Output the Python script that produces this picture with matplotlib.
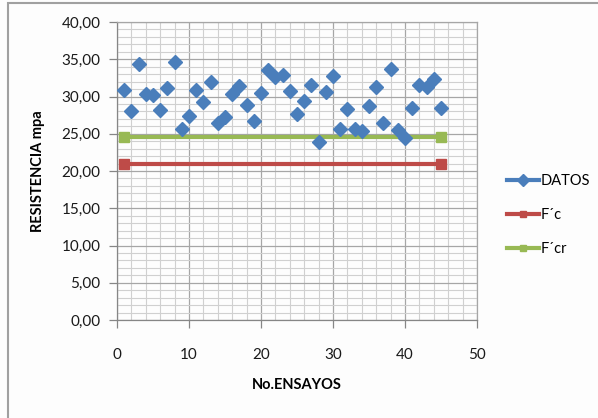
import matplotlib
matplotlib.use("Agg")
import matplotlib.pyplot as plt
from matplotlib.lines import Line2D
from matplotlib.patches import Rectangle
from matplotlib.ticker import MultipleLocator, FuncFormatter

ensayos = list(range(1, 46))
datos = [30.9, 28.0, 34.4, 30.4, 30.2, 28.2, 31.2, 34.6, 25.6, 27.4,
         30.9, 29.3, 31.9, 26.5, 27.3, 30.3, 31.4, 28.9, 26.7, 30.5,
         33.6, 32.6, 32.9, 30.7, 27.7, 29.4, 31.5, 23.9, 30.6, 32.7,
         25.7, 28.3, 25.7, 25.4, 28.7, 31.3, 26.5, 33.7, 25.5, 24.4,
         28.5, 31.5, 31.3, 32.3, 28.5]
linea_x = [1, 45]
fc = [20.9, 20.9]
fcr = [24.6, 24.6]

FONT = "Lato"
plt.rcParams['font.family'] = [FONT, 'DejaVu Sans']

fig = plt.figure(figsize=(5.98, 4.18), dpi=100)
fig.patch.set_facecolor('#fdfdfd')
ax = fig.add_axes([117/598, 1-320/418, 360/598, 298/418])
ax.set_facecolor('#fdfdfd')

# outer chart border (top and left visible)
fig.add_artist(Rectangle((8/598, -0.1), 1.2, 1 - 3/418 + 0.1, transform=fig.transFigure,
                         fill=False, edgecolor='#a0a0a0', linewidth=1.5))

blue = '#4a7ebb'
red = '#be4b48'
green = '#98b954'

ax.plot(ensayos, datos, linestyle='none', marker='D', markersize=7.5,
        color=blue, zorder=4)
ax.plot(linea_x, fc, color=red, linewidth=3, marker='s', markersize=6.5, zorder=3)
ax.plot(linea_x, fcr, color=green, linewidth=3, marker='s', markersize=6.5, zorder=3)

ax.set_xlim(0, 50)
ax.set_ylim(0, 40)
ax.xaxis.set_major_locator(MultipleLocator(10))
ax.xaxis.set_minor_locator(MultipleLocator(2))
ax.yaxis.set_major_locator(MultipleLocator(5))
ax.yaxis.set_minor_locator(MultipleLocator(1))
ax.yaxis.set_major_formatter(FuncFormatter(lambda v, p: f"{v:.2f}".replace('.', ',')))
ax.grid(which='major', color='#a6a6a6', linewidth=0.9)
ax.grid(which='minor', color='#d0d0d0', linewidth=0.8)
ax.set_axisbelow(True)
for s in ax.spines.values():
    s.set_color('#a6a6a6')
    s.set_linewidth(0.9)
ax.spines['left'].set_color('#868686')
ax.spines['bottom'].set_color('#868686')
ax.tick_params(which='major', length=6, width=0.9, color='#868686',
               labelsize=11, labelcolor='#1a1a1a', pad=6)
ax.tick_params(which='minor', length=0)
ax.tick_params(axis='x', pad=14)

ax.set_xlabel('No.ENSAYOS', fontsize=10.5, fontweight='bold', labelpad=12)
ax.set_ylabel('RESISTENCIA mpa', fontsize=10.5, fontweight='bold', labelpad=12)

handles = [Line2D([], [], color=blue, linewidth=3, marker='D', markersize=6),
           Line2D([], [], color=red, linewidth=3, marker='s', markersize=5),
           Line2D([], [], color=green, linewidth=3, marker='s', markersize=5)]
leg = fig.legend(handles, ['DATOS', 'F´c', 'F´cr'], loc='center left',
                 bbox_to_anchor=(494/598, 1-215/418), frameon=False,
                 fontsize=10.5, labelspacing=1.35, handlelength=2.2, handletextpad=0.1,
                 borderaxespad=0.5, borderpad=0.4)

fig.savefig('out.png', dpi=100, facecolor=fig.get_facecolor())
